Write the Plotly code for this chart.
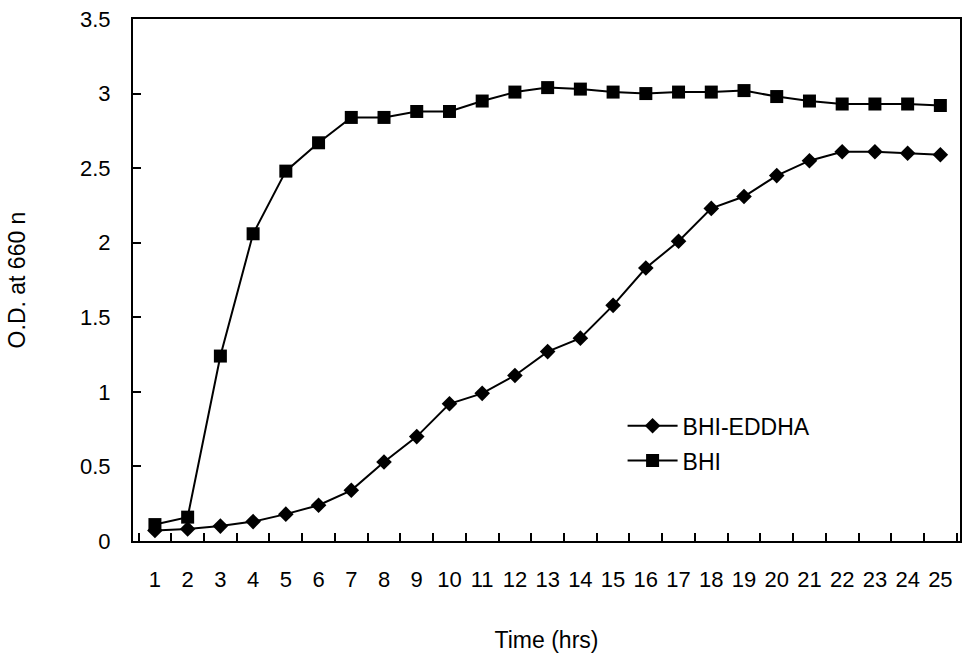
import plotly.graph_objects as go

hours = [str(h) for h in range(1, 26)]
bhi_eddha = [0.07, 0.08, 0.10, 0.13, 0.18, 0.24, 0.34, 0.53, 0.70, 0.92, 0.99, 1.11, 1.27,
             1.36, 1.58, 1.83, 2.01, 2.23, 2.31, 2.45, 2.55, 2.61, 2.61, 2.60, 2.59]
bhi = [0.11, 0.16, 1.24, 2.06, 2.48, 2.67, 2.84, 2.84, 2.88, 2.88, 2.95, 3.01, 3.04,
       3.03, 3.01, 3.00, 3.01, 3.01, 3.02, 2.98, 2.95, 2.93, 2.93, 2.93, 2.92]

FONT = "Liberation Sans, Arial, sans-serif"

fig = go.Figure()
fig.add_trace(go.Scatter(
    x=hours, y=bhi_eddha, name="BHI-EDDHA", mode="lines+markers",
    legendgroup="a",
    line=dict(color="black", width=2),
    marker=dict(symbol="diamond", size=12, color="black"),
))
fig.add_trace(go.Scatter(
    x=hours, y=bhi, name="BHI", mode="lines+markers",
    legendgroup="b",
    line=dict(color="black", width=2),
    marker=dict(symbol="square", size=13, color="black"),
))

fig.update_layout(
    width=965, height=653,
    margin=dict(l=133, r=5, t=19, b=112, autoexpand=False),
    paper_bgcolor="white", plot_bgcolor="white",
    font=dict(family=FONT, color="black", size=22),
    showlegend=True,
    legend=dict(
        x=0.592, y=0.262, xanchor="left", yanchor="top",
        bgcolor="rgba(0,0,0,0)", borderwidth=0,
        font=dict(size=23, family=FONT, color="black"),
        itemwidth=50, traceorder="grouped", tracegroupgap=2,
    ),
)
fig.update_xaxes(
    type="category", range=[-0.67, 24.6],
    showline=True, linecolor="black", linewidth=2, mirror=True,
    ticks="inside", tickson="boundaries", ticklen=8, tickwidth=1.5, tickcolor="black",
    showgrid=False, zeroline=False, tickangle=0,
    tickfont=dict(size=22), ticklabelstandoff=18,
    title=dict(text="Time (hrs)", font=dict(size=23), standoff=40),
)
fig.update_yaxes(
    range=[0, 3.5], dtick=0.5, tick0=0,
    showline=True, linecolor="black", linewidth=2, mirror=True,
    ticks="inside", ticklen=8, tickwidth=1.5, tickcolor="black",
    showgrid=False, zeroline=False,
    tickfont=dict(size=22), ticklabelstandoff=16,
    title=dict(text="O.D. at 660 n", font=dict(size=23), standoff=48),
)

fig.write_html("out.html", config={"displayModeBar": False},
               post_script="document.body.style.margin='0';")
